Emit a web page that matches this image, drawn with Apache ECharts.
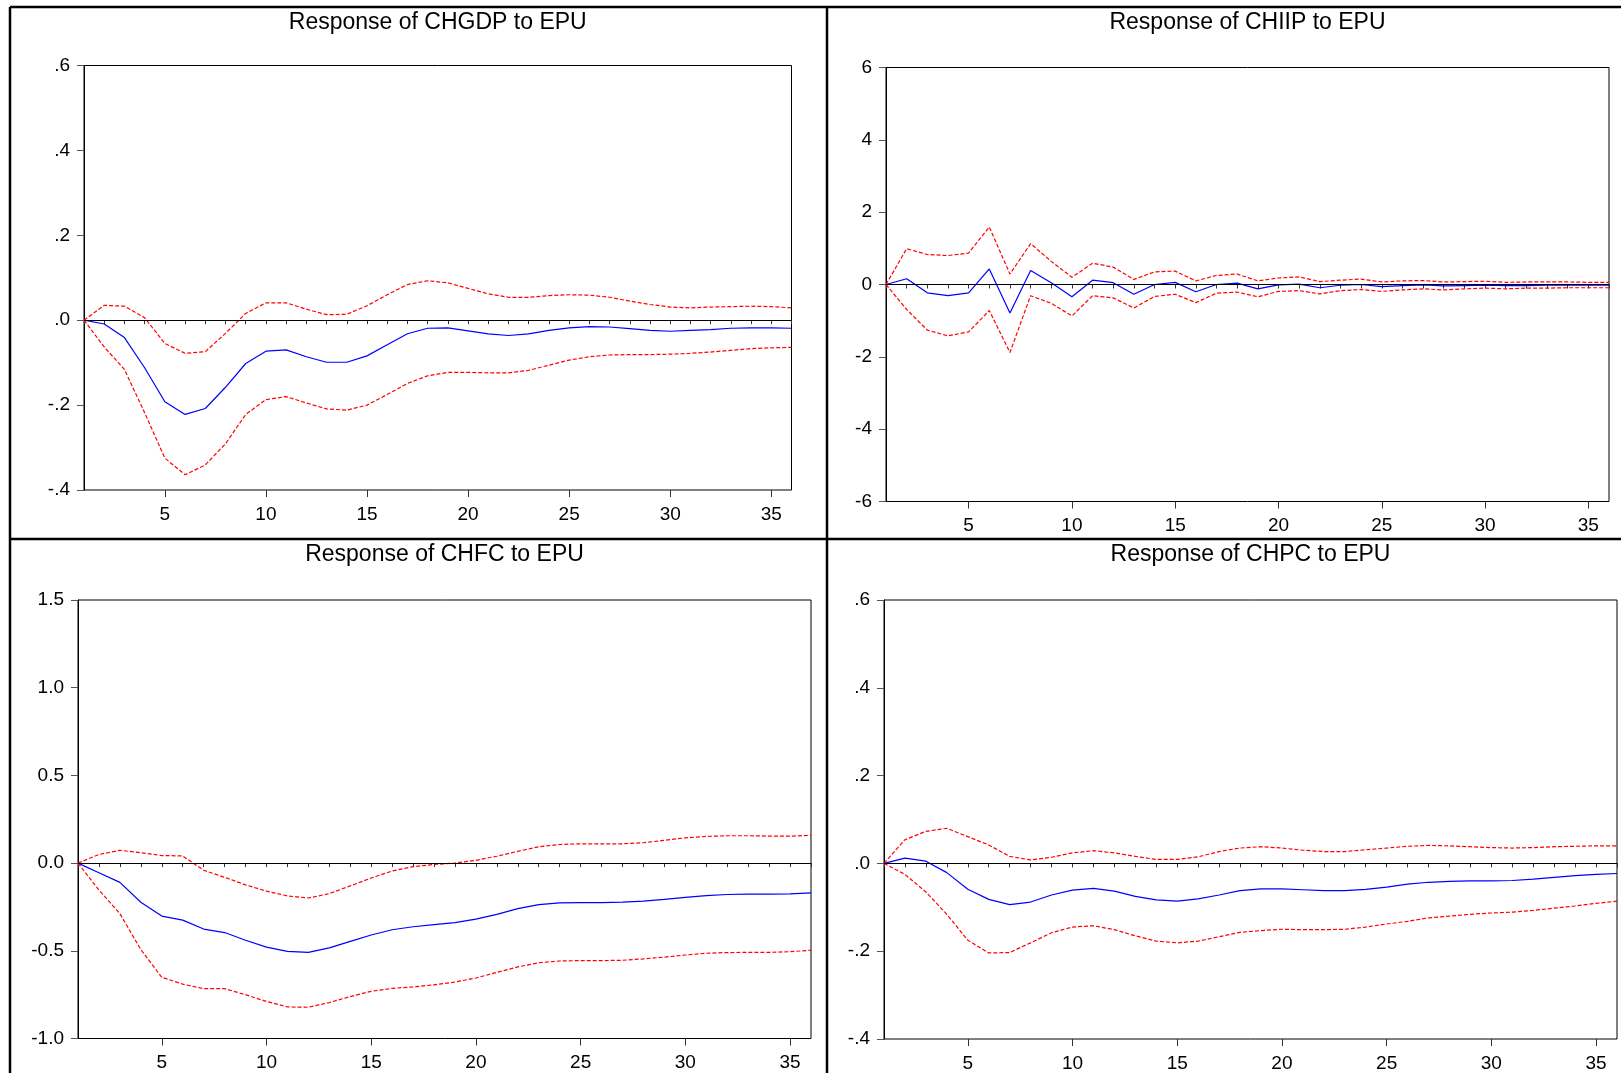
<!DOCTYPE html>
<html>
<head>
<meta charset="utf-8">
<script src="https://cdn.jsdelivr.net/npm/echarts@6/dist/echarts.min.js"></script>
<style>
html,body{margin:0;padding:0;background:#fff;}
#chart{width:1621px;height:1073px;}
</style>
</head>
<body>
<div id="chart"></div>
<script>
const periods = [1,2,3,4,5,6,7,8,9,10,11,12,13,14,15,16,17,18,19,20,21,22,23,24,25,26,27,28,29,30,31,32,33,34,35,36];

const titles = ['Response of CHGDP to EPU','Response of CHIIP to EPU','Response of CHFC to EPU','Response of CHPC to EPU'];

// CHGDP
const gdpResp  = [0,-0.009,-0.041,-0.112,-0.192,-0.222,-0.208,-0.158,-0.102,-0.073,-0.070,-0.086,-0.099,-0.099,-0.084,-0.058,-0.032,-0.019,-0.018,-0.025,-0.032,-0.036,-0.032,-0.024,-0.018,-0.015,-0.016,-0.020,-0.024,-0.026,-0.024,-0.022,-0.019,-0.018,-0.018,-0.019];
const gdpUpper = [0,0.035,0.033,0.006,-0.055,-0.078,-0.074,-0.031,0.016,0.041,0.041,0.026,0.013,0.014,0.034,0.060,0.084,0.093,0.088,0.075,0.062,0.054,0.054,0.058,0.060,0.059,0.054,0.045,0.037,0.031,0.029,0.031,0.032,0.033,0.032,0.029];
const gdpLower = [0,-0.063,-0.116,-0.218,-0.325,-0.364,-0.341,-0.291,-0.222,-0.187,-0.180,-0.195,-0.209,-0.212,-0.200,-0.175,-0.149,-0.131,-0.123,-0.123,-0.124,-0.124,-0.118,-0.106,-0.094,-0.086,-0.082,-0.081,-0.081,-0.080,-0.078,-0.075,-0.071,-0.067,-0.065,-0.064];

// CHIIP
const iipResp  = [0,0.16,-0.23,-0.31,-0.23,0.43,-0.79,0.39,0.05,-0.34,0.12,0.05,-0.27,0.0,0.06,-0.20,0.0,0.04,-0.12,-0.01,0.01,-0.09,-0.02,0.0,-0.06,-0.03,-0.01,-0.04,-0.03,-0.02,-0.03,-0.03,-0.02,-0.02,-0.02,-0.02];
const iipUpper = [0,0.99,0.83,0.80,0.87,1.59,0.29,1.13,0.64,0.20,0.59,0.48,0.14,0.35,0.37,0.10,0.25,0.29,0.10,0.18,0.21,0.08,0.12,0.15,0.07,0.10,0.11,0.07,0.08,0.09,0.06,0.07,0.07,0.07,0.06,0.06];
const iipLower = [0,-0.69,-1.26,-1.42,-1.31,-0.72,-1.88,-0.31,-0.52,-0.87,-0.31,-0.37,-0.65,-0.33,-0.27,-0.50,-0.24,-0.21,-0.34,-0.19,-0.17,-0.26,-0.17,-0.14,-0.19,-0.15,-0.12,-0.15,-0.12,-0.10,-0.12,-0.10,-0.10,-0.09,-0.09,-0.09];

// CHFC
const fcResp  = [0,-0.055,-0.110,-0.223,-0.302,-0.325,-0.376,-0.396,-0.440,-0.479,-0.503,-0.509,-0.483,-0.446,-0.410,-0.380,-0.363,-0.351,-0.339,-0.319,-0.292,-0.260,-0.237,-0.227,-0.225,-0.225,-0.223,-0.217,-0.207,-0.195,-0.185,-0.179,-0.177,-0.177,-0.175,-0.170];
const fcUpper = [0,0.049,0.073,0.059,0.043,0.041,-0.041,-0.081,-0.124,-0.160,-0.187,-0.199,-0.174,-0.130,-0.085,-0.045,-0.020,-0.008,0.0,0.016,0.039,0.067,0.093,0.106,0.110,0.110,0.110,0.116,0.130,0.144,0.152,0.156,0.156,0.154,0.154,0.158];
const fcLower = [0,-0.154,-0.288,-0.493,-0.651,-0.690,-0.716,-0.716,-0.750,-0.789,-0.820,-0.822,-0.795,-0.761,-0.731,-0.714,-0.706,-0.694,-0.678,-0.655,-0.623,-0.592,-0.568,-0.558,-0.556,-0.556,-0.554,-0.546,-0.536,-0.524,-0.514,-0.510,-0.509,-0.509,-0.505,-0.497];

// CHPC
const pcResp  = [0,0.012,0.005,-0.021,-0.059,-0.082,-0.094,-0.088,-0.072,-0.061,-0.057,-0.063,-0.075,-0.083,-0.086,-0.081,-0.072,-0.062,-0.058,-0.058,-0.060,-0.062,-0.062,-0.059,-0.054,-0.047,-0.043,-0.041,-0.040,-0.040,-0.039,-0.036,-0.032,-0.028,-0.025,-0.023];
const pcUpper = [0,0.054,0.073,0.080,0.061,0.042,0.016,0.008,0.014,0.024,0.029,0.024,0.016,0.009,0.009,0.015,0.027,0.035,0.038,0.035,0.030,0.027,0.027,0.031,0.035,0.039,0.041,0.040,0.038,0.036,0.035,0.036,0.038,0.039,0.040,0.040];
const pcLower = [0,-0.025,-0.065,-0.116,-0.175,-0.204,-0.203,-0.181,-0.158,-0.145,-0.142,-0.151,-0.165,-0.177,-0.181,-0.177,-0.167,-0.157,-0.153,-0.150,-0.151,-0.151,-0.150,-0.145,-0.138,-0.132,-0.124,-0.120,-0.116,-0.113,-0.111,-0.107,-0.102,-0.097,-0.091,-0.086];

// y tick labels
const gdpYTicks = ['-.4','-.2','.0','.2','.4','.6'];
const iipYTicks = ['-6','-4','-2','0','2','4','6'];
const fcYTicks  = ['-1.0','-0.5','0.0','0.5','1.0','1.5'];
const pcYTicks  = ['-.4','-.2','.0','.2','.4','.6'];

const FONT = 'Liberation Sans, Arial, sans-serif';

const panels = [
  {resp: gdpResp, up: gdpUpper, lo: gdpLower, ticks: gdpYTicks, min: -0.4, max: 0.6, step: 0.2,
   grid: {left: 84, top: 65.5, width: 707.5, height: 424.5}},
  {resp: iipResp, up: iipUpper, lo: iipLower, ticks: iipYTicks, min: -6, max: 6, step: 2,
   grid: {left: 886, top: 67.5, width: 723, height: 434}},
  {resp: fcResp, up: fcUpper, lo: fcLower, ticks: fcYTicks, min: -1.0, max: 1.5, step: 0.5,
   grid: {left: 78, top: 600, width: 733, height: 438.5}},
  {resp: pcResp, up: pcUpper, lo: pcLower, ticks: pcYTicks, min: -0.4, max: 0.6, step: 0.2,
   grid: {left: 884, top: 600, width: 733, height: 439}}
];

const titleTops = [11, 11, 543, 543];

const chart = echarts.init(document.getElementById('chart'), null, {renderer: 'canvas'});

const option = {
  animation: false,
  backgroundColor: '#ffffff',
  title: panels.map((p, i) => ({
    text: titles[i],
    left: p.grid.left + p.grid.width / 2,
    top: titleTops[i],
    textAlign: 'center',
    padding: 0,
    textStyle: {fontFamily: FONT, fontSize: 23, fontWeight: 'normal', color: '#000'}
  })),
  grid: panels.map(p => Object.assign({show: true, borderColor: '#000', borderWidth: 1, backgroundColor: 'transparent'}, p.grid)),
  xAxis: [],
  yAxis: [],
  series: [],
  graphic: [
    {type: 'line', shape: {x1: 10, y1: 7, x2: 1621, y2: 7}, style: {stroke: '#000', lineWidth: 2.5}, z: 100},
    {type: 'line', shape: {x1: 10, y1: 7, x2: 10, y2: 1073}, style: {stroke: '#000', lineWidth: 2.5}, z: 100},
    {type: 'line', shape: {x1: 827, y1: 7, x2: 827, y2: 1073}, style: {stroke: '#000', lineWidth: 2.5}, z: 100},
    {type: 'line', shape: {x1: 10, y1: 539, x2: 1621, y2: 539}, style: {stroke: '#000', lineWidth: 2.5}, z: 100}
  ]
};

panels.forEach((p, i) => {
  option.xAxis.push({
    type: 'category', gridIndex: i, data: periods, boundaryGap: false,
    axisLine: {show: true, lineStyle: {color: '#000', width: 1}},
    axisTick: {show: true, interval: 0, length: 4, lineStyle: {color: '#333'}},
    axisLabel: {show: true, interval: (idx, v) => Number(v) % 5 === 0, margin: 15,
      fontFamily: FONT, fontSize: 19, color: '#000'},
    splitLine: {show: false}
  });
  option.xAxis.push({
    type: 'category', gridIndex: i, data: periods, boundaryGap: false, position: 'bottom',
    axisLine: {show: false},
    axisTick: {show: true, interval: (idx, v) => Number(v) % 5 === 0, length: 7, lineStyle: {color: '#333'}},
    axisLabel: {show: false},
    splitLine: {show: false}
  });
  option.yAxis.push({
    type: 'value', gridIndex: i, min: p.min, max: p.max, interval: p.step,
    axisLine: {show: true, lineStyle: {color: '#000', width: 1}},
    axisTick: {show: true, length: 7, lineStyle: {color: '#555'}},
    axisLabel: {show: true, margin: 14, fontFamily: FONT, fontSize: 19, color: '#000',
      formatter: v => p.ticks[Math.round((v - p.min) / p.step)]},
    splitLine: {show: false}
  });
  option.series.push({
    type: 'line', xAxisIndex: 2 * i, yAxisIndex: i, data: p.resp,
    showSymbol: false, symbol: 'none', smooth: false,
    lineStyle: {color: '#0000ff', width: 1.2},
    z: 3,
    markLine: {silent: true, symbol: 'none', label: {show: false},
      lineStyle: {color: '#000', width: 1, type: 'solid'},
      data: [{yAxis: 0}], animation: false}
  });
  option.series.push({
    type: 'line', xAxisIndex: 2 * i, yAxisIndex: i, data: p.up,
    showSymbol: false, symbol: 'none',
    lineStyle: {color: '#ff0000', width: 1.2, type: [4, 2]}, z: 4
  });
  option.series.push({
    type: 'line', xAxisIndex: 2 * i, yAxisIndex: i, data: p.lo,
    showSymbol: false, symbol: 'none',
    lineStyle: {color: '#ff0000', width: 1.2, type: [4, 2]}, z: 4
  });
});

chart.setOption(option);
</script>
</body>
</html>
